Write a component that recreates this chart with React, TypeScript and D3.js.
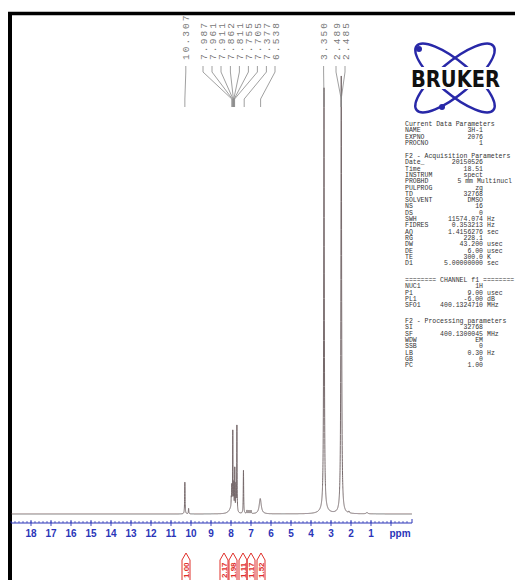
import React from "react";
import * as d3 from "d3";

// ---- Data ----
const axisTicks = [18, 17, 16, 15, 14, 13, 12, 11, 10, 9, 8, 7, 6, 5, 4, 3, 2, 1];
// peaks: ppm, height (relative intensity), half-width (ppm)
const peakPpm = [10.307, 10.12, 8.0, 7.987, 7.961, 7.911, 7.862, 7.811, 7.755, 7.705, 7.377, 7.2, 7.1, 7.0, 6.538, 3.35, 3.35, 2.489, 2.485, 2.1, 1.2];
const peakHeight = [7.5, 1.3, 1.2, 2.0, 5.0, 18.5, 6.0, 10.0, 6.0, 20.5, 10.2, 0.8, 0.8, 0.8, 3.6, 99, 1.0, 52, 52, 0.4, 0.3];
const peakWidth = [0.012, 0.012, 0.12, 0.01, 0.01, 0.01, 0.01, 0.01, 0.01, 0.01, 0.012, 0.015, 0.015, 0.015, 0.06, 0.018, 0.2, 0.02, 0.02, 0.02, 0.05];

const topLabels = ["10.307", "7.987", "7.961", "7.911", "7.862", "7.811", "7.755", "7.705", "7.377", "6.538", "3.350", "2.489", "2.485"];
// ppm positions where label text is placed (spread out), and where the connector lands
const topLabelPos = [10.26, 9.4, 8.95, 8.5, 8.03, 7.58, 7.13, 6.68, 6.23, 5.8, 3.37, 2.75, 2.3];
const topLabelTarget = [10.307, 7.96, 7.93, 7.9, 7.88, 7.86, 7.84, 7.82, 7.34, 6.52, 3.35, 2.49, 2.49];

const integralValues = ["1.00", "2.17", "1.98", "1.11", "1.17", "1.52"];
const integralPos = [10.25, 8.35, 7.9, 7.4, 7.0, 6.5];

const currentParams = [["NAME", "3H-1", ""], ["EXPNO", "2076", ""], ["PROCNO", "1", ""]];
const acqParams = [
  ["Date_", "20150526", ""], ["Time", "18.51", ""], ["INSTRUM", "spect", ""],
  ["PROBHD", "5 mm Multinucl", ""], ["PULPROG", "zg", ""], ["TD", "32768", ""],
  ["SOLVENT", "DMSO", ""], ["NS", "16", ""], ["DS", "0", ""],
  ["SWH", "11574.074", "Hz"], ["FIDRES", "0.353213", "Hz"], ["AQ", "1.4156276", "sec"],
  ["RG", "228.1", ""], ["DW", "43.200", "usec"], ["DE", "6.00", "usec"],
  ["TE", "300.0", "K"], ["D1", "5.00000000", "sec"],
];
const channelParams = [["NUC1", "1H", ""], ["P1", "9.00", "usec"], ["PL1", "-6.00", "dB"], ["SFO1", "400.1324710", "MHz"]];
const procParams = [
  ["SI", "32768", ""], ["SF", "400.1300045", "MHz"], ["WDW", "EM", ""], ["SSB", "0", ""],
  ["LB", "0.30", "Hz"], ["GB", "0", ""], ["PC", "1.00", ""],
];

export default function App() {
  const W = 515, H = 580;
  const x = d3.scaleLinear().domain([19, -1.05]).range([11, 412]);
  const y = d3.scaleLinear().domain([0, 100]).range([514, 88]);
  const axisY = 523;

  const samples = d3.range(19, -1.05, -0.002);
  const pts: [number, number][] = samples.map((p) => {
    let v = 0;
    for (let i = 0; i < peakPpm.length; i++) {
      const d = p - peakPpm[i];
      const g = peakWidth[i];
      v += (peakHeight[i] * g * g) / (d * d + g * g);
    }
    return [p, v];
  });
  const line = d3.line<[number, number]>().x((d) => x(d[0])).y((d) => y(d[1]));
  const specPath = line(pts) || "";

  const minorTicks = d3.range(19, -1.0, -0.2);

  const mono = "'Liberation Mono', 'DejaVu Sans Mono', monospace";
  const fs = 6.5;
  const rowH = 6.3;
  const labelX = 405, valueX = 483, unitX = 487;

  const renderRows = (rows: string[][], y0: number, key: string) =>
    rows.map((r, i) => (
      <g key={key + i}>
        <text x={labelX} y={y0 + i * rowH}>{r[0]}</text>
        <text x={r[1].length > 12 ? 512 : valueX} y={y0 + i * rowH} textAnchor="end">{r[1]}</text>
        {r[2] && <text x={unitX} y={y0 + i * rowH}>{r[2]}</text>}
      </g>
    ));

  const blue = "#2a35b8";
  const red = "#e0302a";

  return (
    <svg width={W} height={H} style={{ position: "absolute", left: 0, top: 0, background: "#fff" }}>
      <defs>
        <clipPath id="plotclip">
          <rect x={10} y={16} width={405} height={510} />
        </clipPath>
      </defs>
      {/* frame */}
      <line x1={8} y1={13.5} x2={515} y2={13.5} stroke="#000" strokeWidth={3.5} />
      <line x1={10} y1={12} x2={10} y2={580} stroke="#000" strokeWidth={4} />

      {/* spectrum */}
      <g clipPath="url(#plotclip)">
        <path d={specPath} fill="none" stroke="#76696b" strokeWidth={1} />
      </g>

      {/* axis */}
      <line x1={x(19)} x2={x(-1.05)} y1={axisY} y2={axisY} stroke={blue} strokeWidth={1.2} />
      {minorTicks.map((t, i) => (
        <line key={"m" + i} x1={x(t)} x2={x(t)} y1={axisY} y2={axisY - 2} stroke={blue} strokeWidth={0.7} />
      ))}
      {axisTicks.concat([0]).map((t) => (
        <line key={"M" + t} x1={x(t)} x2={x(t)} y1={axisY - 3} y2={axisY + 3} stroke={blue} strokeWidth={0.9} />
      ))}
      <line x1={x(-1.05)} x2={x(-1.05)} y1={axisY - 4} y2={axisY} stroke={blue} strokeWidth={1} />
      {axisTicks.map((t) => (
        <text key={"l" + t} x={x(t)} y={537} textAnchor="middle" fontFamily="'Liberation Sans', Arial, sans-serif" fontWeight="bold" fontSize={10} fill={blue}>
          {t}
        </text>
      ))}
      <text x={400} y={537} textAnchor="middle" fontFamily="'Liberation Sans', Arial, sans-serif" fontWeight="bold" fontSize={10} fill={blue}>ppm</text>

      {/* peak labels */}
      <g fontFamily={mono} fontSize={9.5} fill="#777">
        {topLabels.map((lab, i) => {
          const lx = x(topLabelPos[i]);
          return (
            <text key={"t" + i} transform={`translate(${lx + 3.5},60) rotate(-90)`} textAnchor="start" textLength={lab.length * 7.4} lengthAdjust="spacing">{lab}</text>
          );
        })}
      </g>
      <g stroke="#888" strokeWidth={0.8} fill="none">
        {topLabels.map((lab, i) => {
          const lx = x(topLabelPos[i]);
          const px = x(topLabelTarget[i]);
          return <path key={"c" + i} d={`M${lx},66 L${lx},72 L${px},99 L${px},107`} />;
        })}
      </g>

      {/* integrals */}
      <g stroke={red} strokeWidth={1} fill="none">
        {integralPos.map((p, i) => {
          const ix = x(p);
          return <path key={"ih" + i} d={`M${ix - 4},580 L${ix - 4},560 L${ix},553 L${ix + 4},560 L${ix + 4},580`} />;
        })}
      </g>
      <g fontFamily="'Liberation Sans', Arial, sans-serif" fontWeight="bold" fontSize={8} fill={red}>
        {integralValues.map((v, i) => (
          <text key={"iv" + i} transform={`translate(${x(integralPos[i]) + 3},578) rotate(-90)`}>{v}</text>
        ))}
      </g>

      {/* Bruker logo */}
      <g>
        <ellipse cx={455} cy={78} rx={50} ry={16} transform="rotate(40 455 78)" fill="none" stroke="#2828a8" strokeWidth={2.4} />
        <ellipse cx={455} cy={78} rx={50} ry={16} transform="rotate(-40 455 78)" fill="none" stroke="#2828a8" strokeWidth={2.4} />
        <circle cx={419} cy={49} r={3} fill="#2828a8" />
        <circle cx={442} cy={107} r={3} fill="#2828a8" />
        <rect x={409} y={67} width={93} height={22} fill="#fff" />
        <text x={411} y={87} fontFamily="'DejaVu Sans', sans-serif" fontWeight="bold" fontSize={23} textLength={89} lengthAdjust="spacingAndGlyphs" fill="#111">BRUKER</text>
      </g>

      {/* parameters */}
      <g fontFamily={mono} fontSize={fs} fill="#333">
        <text x={labelX} y={126}>Current Data Parameters</text>
        {renderRows(currentParams, 126 + rowH, "cp")}
        <text x={labelX} y={158}>F2 - Acquisition Parameters</text>
        {renderRows(acqParams, 158 + rowH, "ap")}
        <text x={labelX} y={282}>======== CHANNEL f1 ========</text>
        {renderRows(channelParams, 282 + rowH, "ch")}
        <text x={labelX} y={323}>F2 - Processing parameters</text>
        {renderRows(procParams, 323 + rowH, "pp")}
      </g>
    </svg>
  );
}
